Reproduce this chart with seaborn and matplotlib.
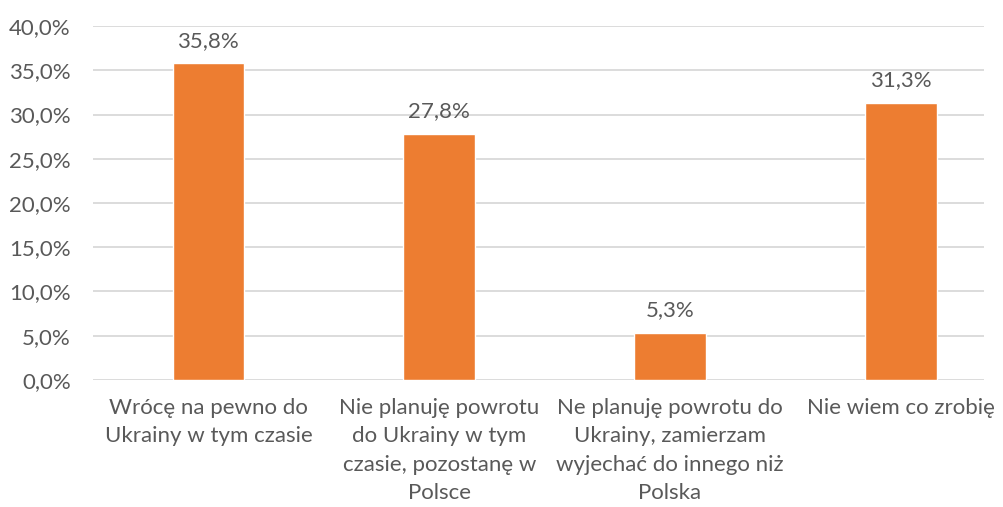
import matplotlib
matplotlib.use("Agg")
import matplotlib.pyplot as plt
import seaborn as sns
import pandas as pd
from matplotlib.ticker import FuncFormatter

categories = [
    "Wrócę na pewno do\nUkrainy w tym czasie",
    "Nie planuję powrotu\ndo Ukrainy w tym\nczasie, pozostanę w\nPolsce",
    "Ne planuję powrotu do\nUkrainy, zamierzam\nwyjechać do innego niż\nPolska",
    "Nie wiem co zrobię",
]
values = [35.8, 27.8, 5.3, 31.3]
value_labels = ["35,8%", "27,8%", "5,3%", "31,3%"]

sns.set_style("white")
plt.rcParams['font.family'] = ['Lato', 'DejaVu Sans']
text_color = '#595959'

df = pd.DataFrame({'cat': categories, 'val': values})

fig = plt.figure(figsize=(10.04, 5.07), dpi=100)
ax = fig.add_axes([0.0926, 0.2505, 0.8874, 0.6982])
sns.barplot(data=df, x='cat', y='val', color='#ED7D31', width=0.31,
            saturation=1, ax=ax, zorder=3)

ax.set_ylim(0, 40)
ax.set_xlim(-0.5, 3.36)
ax.set_yticks(range(0, 41, 5))
ax.yaxis.set_major_formatter(FuncFormatter(lambda v, p: f"{v:.1f}%".replace('.', ',')))
ax.grid(axis='y', color='#D9D9D9', linewidth=1.3, zorder=0)
ax.grid(axis='x', visible=False)
for s in ax.spines.values():
    s.set_visible(False)
ax.tick_params(axis='both', length=0, labelsize=16, colors=text_color)
ax.tick_params(axis='y', pad=16)
ax.tick_params(axis='x', pad=13)
for lbl in ax.get_xticklabels():
    lbl.set_linespacing(1.52)
    lbl.set_verticalalignment('top')
ax.set_xlabel('')
ax.set_ylabel('')

for i, (v, t) in enumerate(zip(values, value_labels)):
    ax.annotate(t, (i, v), xytext=(0, 9), textcoords='offset points',
                ha='center', va='bottom', fontsize=16, color=text_color)

fig.savefig('out.png', dpi=100)
